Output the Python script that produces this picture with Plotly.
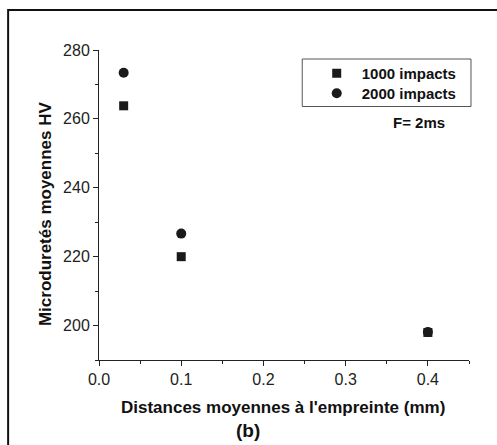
import plotly.graph_objects as go

# Data
distances = [0.03, 0.1, 0.4]
hv_1000 = [263.8, 220.0, 198.0]
hv_2000 = [273.4, 226.7, 198.1]
series_names = ["1000 impacts", "2000 impacts"]
x_ticks = [0.0, 0.1, 0.2, 0.3, 0.4]
y_ticks = [200, 220, 240, 260, 280]

W, H = 497, 445
L, R, T, B = 99, 27.5, 50, 85
pw, ph = W - L - R, H - T - B

def px_x(p):
    return (p - L) / pw

def px_y(p):
    return (H - B - p) / ph

font = "Liberation Sans, Arial, sans-serif"
fig = go.Figure()
fig.add_trace(go.Scatter(x=distances, y=hv_1000, mode="markers", name=series_names[0],
                         legend="legend",
                         marker=dict(symbol="square", size=9, color="#1a1a1a")))
fig.add_trace(go.Scatter(x=distances, y=hv_2000, mode="markers", name=series_names[1],
                         legend="legend2",
                         marker=dict(symbol="circle", size=10, color="#1a1a1a")))

axis_common = dict(showgrid=False, zeroline=False, showline=True, linecolor="#222", linewidth=1,
                   ticks="outside", ticklen=5, tickcolor="#222", tickwidth=1,
                   tickfont=dict(family=font, size=16, color="#222"))

leg_common = dict(xanchor="left", yanchor="top", bgcolor="rgba(0,0,0,0)", borderwidth=0,
                  font=dict(family=font, size=15, color="#111", weight="bold"),
                  itemwidth=40)

fig.update_layout(
    width=W, height=H, margin=dict(l=L, r=R, t=T, b=B),
    plot_bgcolor="white", paper_bgcolor="white",
    xaxis=dict(range=[0, 0.45], tickvals=x_ticks, ticktext=[f"{v:.1f}" for v in x_ticks],
               minor=dict(ticks="outside", ticklen=3, tickcolor="#222", tickwidth=1,
                          dtick=0.05, tick0=0),
               **axis_common),
    yaxis=dict(range=[190, 280], tickvals=y_ticks,
               minor=dict(ticks="outside", ticklen=3, tickcolor="#222", tickwidth=1,
                          dtick=10, tick0=190),
               **axis_common),
    showlegend=True,
    legend=dict(x=px_x(312), y=px_y(57), **leg_common),
    legend2=dict(x=px_x(312), y=px_y(77), **leg_common),
)

# outer frame
fig.add_shape(type="rect", xref="paper", yref="paper",
              x0=px_x(8), x1=px_x(510), y0=px_y(460), y1=px_y(10),
              line=dict(color="#111", width=2), fillcolor="rgba(0,0,0,0)")
# legend box
fig.add_shape(type="rect", xref="paper", yref="paper",
              x0=px_x(302.5), x1=px_x(471.5), y0=px_y(106.5), y1=px_y(59),
              line=dict(color="#555", width=1), fillcolor="rgba(0,0,0,0)")

fig.add_annotation(text="<b>F= 2ms</b>", xref="paper", yref="paper", x=px_x(419), y=px_y(122),
                   showarrow=False, xanchor="center", yanchor="middle",
                   font=dict(family=font, size=15, color="#111"))
fig.add_annotation(text="<b>Distances moyennes à l'empreinte (mm)</b>", xref="paper", yref="paper",
                   x=px_x(283.5), y=px_y(407), showarrow=False, xanchor="center", yanchor="middle",
                   font=dict(family=font, size=17, color="#111"))
fig.add_annotation(text="<b>(b)</b>", xref="paper", yref="paper",
                   x=px_x(248), y=px_y(430), showarrow=False, xanchor="center", yanchor="middle",
                   font=dict(family=font, size=19, color="#111"))
fig.add_annotation(text="<b>Microduretés moyennes HV</b>", xref="paper", yref="paper",
                   x=px_x(45), y=px_y(214), showarrow=False, textangle=-90,
                   xanchor="center", yanchor="middle",
                   font=dict(family=font, size=17, color="#111"))

fig.write_html("out.html")
